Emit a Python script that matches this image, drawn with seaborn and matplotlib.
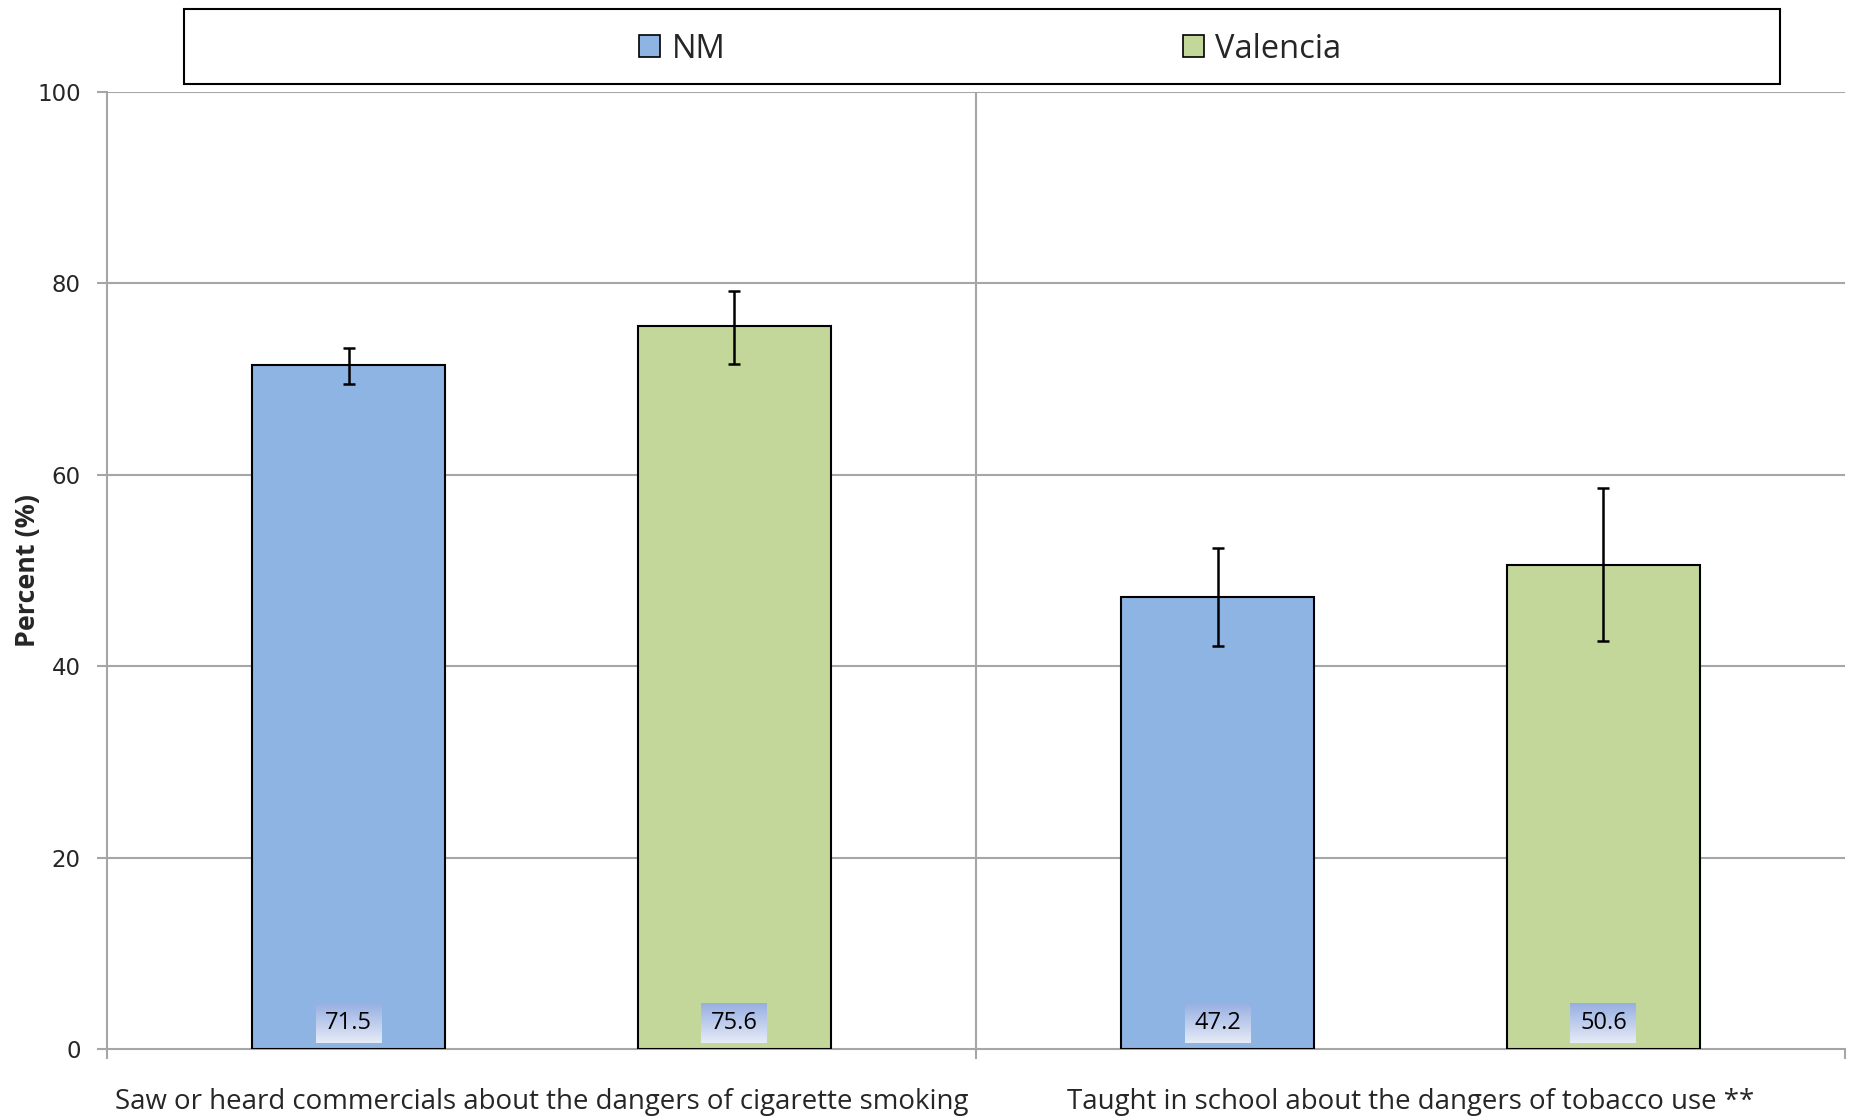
import numpy as np
import pandas as pd
import matplotlib
matplotlib.use("Agg")
import matplotlib.pyplot as plt
from matplotlib.patches import Rectangle
from matplotlib.colors import LinearSegmentedColormap
from matplotlib.ticker import FixedLocator, NullFormatter
import seaborn as sns

categories = ["Saw or heard commercials about the dangers of cigarette smoking",
              "Taught in school about the dangers of tobacco use **"]
groups = ["NM", "Valencia"]
nm_values = [71.5, 47.2]
valencia_values = [75.6, 50.6]
nm_lower = [69.5, 42.1]
nm_upper = [73.3, 52.4]
valencia_lower = [71.6, 42.6]
valencia_upper = [79.2, 58.6]
y_ticks = [0, 20, 40, 60, 80, 100]

colors = {"NM": "#8EB4E3", "Valencia": "#C4D79B"}

df = pd.DataFrame({
    "category": categories * 2,
    "group": ["NM"] * 2 + ["Valencia"] * 2,
    "value": nm_values + valencia_values,
})
lows = {"NM": nm_lower, "Valencia": valencia_lower}
highs = {"NM": nm_upper, "Valencia": valencia_upper}
vals = {"NM": nm_values, "Valencia": valencia_values}

sns.set_theme(style="white")
plt.rcParams["font.family"] = ["Open Sans", "DejaVu Sans"]

fig = plt.figure(figsize=(18.51, 11.18), dpi=100)
ax = fig.add_axes([0.0578, 0.0617, 0.939, 0.856])

sns.barplot(data=df, x="category", y="value", hue="group", order=categories,
            hue_order=groups, palette=colors, width=0.888, gap=0.5,
            edgecolor="black", linewidth=1.5, errorbar=None, legend=False,
            saturation=1, ax=ax, zorder=3)

grid_c = "#A6A6A6"
for t in y_ticks[1:]:
    ax.axhline(t, color=grid_c, lw=1.5, zorder=1)
ax.axvline(0.5, color=grid_c, lw=1.5, zorder=1)

label_texts = []
for gi, g in enumerate(groups):
    cont = ax.containers[gi]
    xs = [b.get_x() + b.get_width() / 2 for b in cont]
    v = np.array(vals[g])
    lo = v - np.array(lows[g])
    hi = np.array(highs[g]) - v
    ax.errorbar(xs, v, yerr=[lo, hi], fmt="none", ecolor="black",
                elinewidth=1.8, capsize=4.5, capthick=1.8, zorder=4)
    for x, val in zip(xs, v):
        t = ax.text(x, 2.7, f"{val:.1f}", ha="center", va="center",
                    fontsize=17, color="black", zorder=6)
        label_texts.append(t)

ax.set_xlim(-0.5, 1.5)
ax.set_ylim(0, 100)
ax.set_yticks(y_ticks)
ax.set_yticklabels([str(t) for t in y_ticks], fontsize=16.5, family="DejaVu Sans")
ax.set_xticks([0, 1])
ax.set_xticklabels(categories, fontsize=19.9)
ax.xaxis.set_minor_locator(FixedLocator([-0.5, 0.5, 1.5]))
ax.xaxis.set_minor_formatter(NullFormatter())
ax.tick_params(axis="x", which="major", length=0, pad=28)
ax.tick_params(axis="x", which="minor", length=7, width=1.5, color=grid_c,
               bottom=True)
ax.tick_params(axis="y", which="major", length=7, width=1.5, color=grid_c,
               left=True, pad=12)
ax.set_xlabel("")
ax.set_ylabel("Percent (%)", fontsize=19.4, fontweight="bold")
ax.yaxis.set_label_coords(-0.038, 0.5)

for s in ["top", "right"]:
    ax.spines[s].set_visible(False)
for s in ["left", "bottom"]:
    ax.spines[s].set_color(grid_c)
    ax.spines[s].set_linewidth(1.5)

# gradient boxes behind value labels
fig.canvas.draw()
grad_cmap = LinearSegmentedColormap.from_list("lbl", ["#E6EBF7", "#97AFE2"])
grad = np.linspace(0, 1, 64).reshape(-1, 1)
inv = ax.transData.inverted()
for t in label_texts:
    bb = t.get_window_extent()
    cx, cy = (bb.x0 + bb.x1) / 2, (bb.y0 + bb.y1) / 2
    w, h = 66, 40
    (x0, y0) = inv.transform((cx - w / 2, cy - h / 2))
    (x1, y1) = inv.transform((cx + w / 2, cy + h / 2))
    ax.imshow(grad, cmap=grad_cmap, extent=[x0, x1, y0, y1], origin="lower",
              aspect="auto", zorder=5, interpolation="bilinear")
ax.set_xlim(-0.5, 1.5)
ax.set_ylim(0, 100)

# legend box
fig.patches.append(Rectangle((0.0994, 0.9249), 0.8623, 0.067,
                             transform=fig.transFigure, facecolor="white",
                             edgecolor="black", linewidth=1.5, zorder=0))
handles = [Rectangle((0, 0), 1, 1, facecolor=colors[g], edgecolor="black",
                     linewidth=1.2) for g in groups]
fig.legend(handles, groups, loc="center", bbox_to_anchor=(0.535, 0.956),
           ncol=2, frameon=False, fontsize=23.5, handlelength=0.65,
           handleheight=0.65, handletextpad=0.35, columnspacing=14)

fig.savefig("out.png", dpi=100)
